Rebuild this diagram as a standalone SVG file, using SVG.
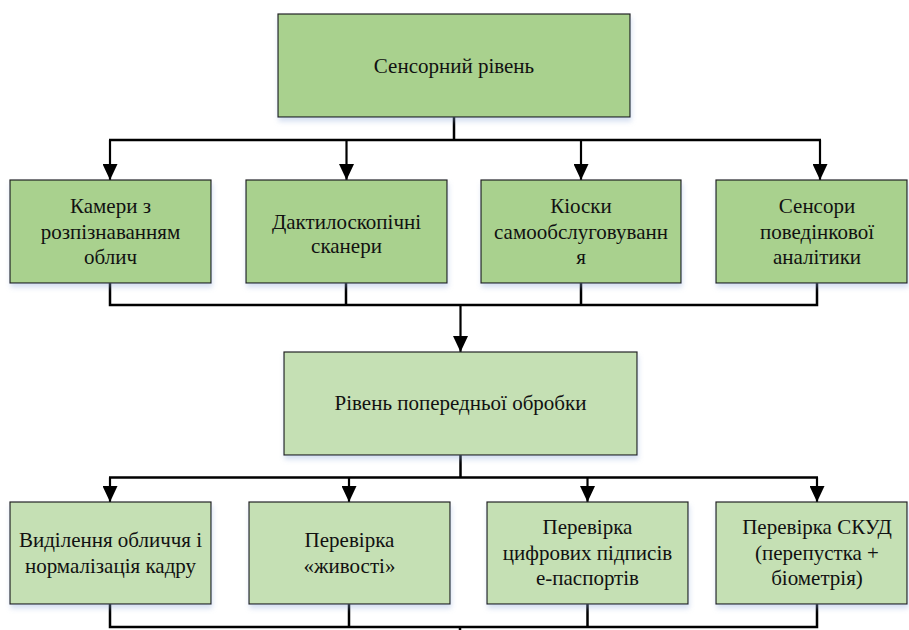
<svg xmlns="http://www.w3.org/2000/svg" width="909" height="630" viewBox="0 0 909 630">
  <style>
    .box { stroke: #222; stroke-width: 1.2; filter: url(#shadow); }
    .dark { fill: #A9D18E; }
    .light { fill: #C5E0B4; }
    .lbl { font-family: "Liberation Serif", "Times New Roman", serif; font-size: 21px; fill: #111; text-anchor: middle; }
    .wire { fill: none; stroke: #000; stroke-width: 2.5; }
    .arr { fill: none; stroke: #000; stroke-width: 2.2; marker-end: url(#tip); }
  </style>
  <defs>
    <filter id="shadow" x="-5%" y="-5%" width="115%" height="125%">
      <feDropShadow dx="1" dy="4" stdDeviation="2.5" flood-color="#8aa6d6" flood-opacity="0.35"/>
    </filter>
    <marker id="tip" markerUnits="userSpaceOnUse" markerWidth="16" markerHeight="15" refX="16" refY="7.5" orient="auto">
      <path d="M0,0 L16,7.5 L0,15 Z" fill="#000"/>
    </marker>
  </defs>

  <!-- connectors -->
  <g id="connectors">
    <!-- sensor level to devices -->
    <path class="wire" d="M454,117 V140 M109,140 H821"/>
    <path class="arr" d="M110,140 V180"/>
    <path class="arr" d="M346.5,140 V180"/>
    <path class="arr" d="M581,140 V180"/>
    <path class="arr" d="M820,140 V180"/>
    <!-- devices to preprocessing -->
    <path class="wire" d="M110,283 V305 H817 V283 M346,283 V305 M581,283 V305"/>
    <path class="arr" d="M460.5,305 V352"/>
    <!-- preprocessing to checks -->
    <path class="wire" d="M460.5,455 V477.5 M109,477.5 H818"/>
    <path class="arr" d="M110,477.5 V502"/>
    <path class="arr" d="M349,477.5 V502"/>
    <path class="arr" d="M587.5,477.5 V502"/>
    <path class="arr" d="M817,477.5 V502"/>
    <!-- checks downward -->
    <path class="wire" d="M110,604 V627 H817 V604 M349,604 V627 M587.5,604 V627 M460,627 V632"/>
  </g>

  <g id="sensor-level">
    <rect class="box dark" x="278" y="14" width="352" height="103"/>
    <text class="lbl" x="454" y="73">Сенсорний рівень</text>
  </g>

  <g id="face-cameras">
    <rect class="box dark" x="10" y="180" width="201" height="103"/>
    <text class="lbl" x="110.5" y="213">Камери з</text>
    <text class="lbl" x="110.5" y="238.5">розпізнаванням</text>
    <text class="lbl" x="110.5" y="264">облич</text>
  </g>

  <g id="fingerprint-scanners">
    <rect class="box dark" x="246" y="180" width="201" height="103"/>
    <text class="lbl" x="346.5" y="229">Дактилоскопічні</text>
    <text class="lbl" x="346.5" y="253">сканери</text>
  </g>

  <g id="self-service-kiosks">
    <rect class="box dark" x="481" y="180" width="200" height="103"/>
    <text class="lbl" x="581" y="213">Кіоски</text>
    <text class="lbl" x="581" y="238.5">самообслуговуванн</text>
    <text class="lbl" x="581" y="264">я</text>
  </g>

  <g id="behaviour-sensors">
    <rect class="box dark" x="716" y="180" width="191" height="103"/>
    <text class="lbl" x="817" y="213">Сенсори</text>
    <text class="lbl" x="817" y="238.5">поведінкової</text>
    <text class="lbl" x="817" y="264">аналітики</text>
  </g>

  <g id="preprocessing-level">
    <rect class="box light" x="284" y="352" width="353" height="103"/>
    <text class="lbl" x="460.5" y="410">Рівень попередньої обробки</text>
  </g>

  <g id="face-normalisation">
    <rect class="box light" x="10" y="502" width="201" height="102"/>
    <text class="lbl" x="110.5" y="547">Виділення обличчя і</text>
    <text class="lbl" x="110.5" y="573">нормалізація кадру</text>
  </g>

  <g id="liveness-check">
    <rect class="box light" x="249" y="502" width="201" height="102"/>
    <text class="lbl" x="349.5" y="547">Перевірка</text>
    <text class="lbl" x="349.5" y="573">«живості»</text>
  </g>

  <g id="e-passport-check">
    <rect class="box light" x="487" y="502" width="201" height="102"/>
    <text class="lbl" x="587.5" y="534">Перевірка</text>
    <text class="lbl" x="587.5" y="560">цифрових підписів</text>
    <text class="lbl" x="587.5" y="585">е-паспортів</text>
  </g>

  <g id="access-control-check">
    <rect class="box light" x="716" y="502" width="191" height="102"/>
    <text class="lbl" x="817" y="534">Перевірка СКУД</text>
    <text class="lbl" x="817" y="560">(перепустка +</text>
    <text class="lbl" x="817" y="585">біометрія)</text>
  </g>
</svg>
